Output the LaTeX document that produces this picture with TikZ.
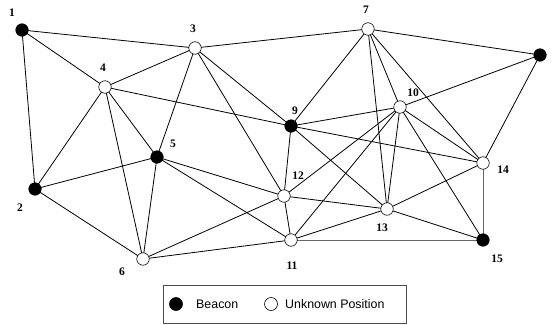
\documentclass[tikz,border=0pt]{standalone}
\usepackage{fontspec}
\setmainfont{Liberation Serif}
\newfontfamily\legendfont{Liberation Sans}
\begin{document}
\begin{tikzpicture}[x=1pt,y=-1pt,
  edge/.style={line width=0.8pt,black},
  greyedge/.style={line width=1pt,black!60},
  beacon/.style={circle,fill=black,draw=black,line width=0.6pt,minimum size=12.5pt,inner sep=0pt},
  unknown/.style={circle,fill=white,draw=black,line width=0.6pt,minimum size=12.5pt,inner sep=0pt},
  lbl/.style={font=\fontsize{11.5}{12}\selectfont\bfseries,inner sep=0pt},
  legtext/.style={font=\legendfont\fontsize{12.4}{14}\selectfont,inner sep=0pt,anchor=west}]
\useasboundingbox (0,0) rectangle (553,324);
% coordinates of nodes
\coordinate (p1) at (22,30);
\coordinate (p2) at (35,189);
\coordinate (p3) at (195,48);
\coordinate (p4) at (105,87);
\coordinate (p5) at (157,157);
\coordinate (p6) at (143,259);
\coordinate (p7) at (368,29);
\coordinate (p8) at (540,55);
\coordinate (p9) at (291,126);
\coordinate (p10) at (400,107);
\coordinate (p11) at (291,240);
\coordinate (p12) at (284,196);
\coordinate (p13) at (387,209);
\coordinate (p14) at (483,163);
\coordinate (p15) at (483,240);
% edges
\foreach \a/\b in {1/3,1/4,1/2,3/7,3/4,3/5,3/12,3/9,4/9,4/2,4/6,4/5,
  7/8,7/9,7/13,7/10,7/14,8/10,8/14,2/5,2/6,5/6,5/12,5/11,6/12,6/11,
  9/10,9/14,9/12,9/13,10/12,10/11,10/13,10/14,10/15,12/13,12/11,11/13,13/14,13/15}
  \draw[edge] (p\a) -- (p\b);
\draw[greyedge] (p11) -- (p15);
\draw[greyedge] (p14) -- (p15);
% nodes
\foreach \i in {1,2,5,8,9,15} \node[beacon] (n\i) at (p\i) {};
\foreach \i in {3,4,6,7,10,11,12,13,14} \node[unknown] (n\i) at (p\i) {};
% labels
\node[lbl] (l1) at (12,13) {1};
\node[lbl] (l2) at (20,208) {2};
\node[lbl] (l3) at (193,29) {3};
\node[lbl] (l4) at (103,68) {4};
\node[lbl] (l5) at (173,144) {5};
\node[lbl] (l6) at (122,272) {6};
\node[lbl] (l7) at (366,10) {7};
\node[lbl] (l9) at (295,111) {9};
\node[lbl] (l10) at (413,93) {10};
\node[lbl] (l11) at (292,266) {11};
\node[lbl] (l12) at (298,176) {12};
\node[lbl] (l13) at (382,228) {13};
\node[lbl] (l14) at (503,170) {14};
\node[lbl] (l15) at (497,259) {15};
% legend
\draw[line width=0.8pt,black!70] (163,285) rectangle (406,323);
\node[beacon,minimum size=13pt] (lb) at (176,304) {};
\node[legtext] (lbt) at (196,304) {Beacon};
\node[unknown,minimum size=13pt] (lu) at (271,304) {};
\node[legtext] (lut) at (285,304) {Unknown Position};
\end{tikzpicture}
\end{document}
